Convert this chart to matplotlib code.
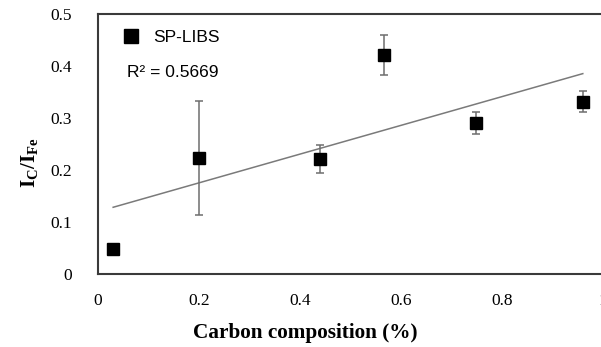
import numpy as np
import matplotlib
matplotlib.use("Agg")
import matplotlib.pyplot as plt
from matplotlib.lines import Line2D

plt.rcParams["mathtext.fontset"] = "custom"
plt.rcParams["mathtext.rm"] = "Liberation Serif"
plt.rcParams["mathtext.bf"] = "Liberation Serif:bold"

# carbon content (%) and I_C/I_Fe ratio with error bars
carbon = [0.03, 0.20, 0.44, 0.566, 0.749, 0.96]
ratio = [0.048, 0.223, 0.221, 0.421, 0.290, 0.331]
ratio_err = [0.0, 0.11, 0.027, 0.038, 0.021, 0.02]
x_ticks = [0, 0.2, 0.4, 0.6, 0.8, 1]
y_ticks = [0, 0.1, 0.2, 0.3, 0.4, 0.5]
x_tick_labels = ["0", "0.2", "0.4", "0.6", "0.8", "1"]
y_tick_labels = ["0", "0.1", "0.2", "0.3", "0.4", "0.5"]

fig = plt.figure(figsize=(6.01, 3.47), dpi=100)
ax = fig.add_axes([98 / 601, 73 / 347, 505 / 601, 260 / 347])

ax.errorbar(carbon, ratio, yerr=ratio_err, fmt="s", color="black",
            markersize=8.5, ecolor="#6e6e6e", elinewidth=1.1,
            capsize=2.6, capthick=1.1, zorder=3)

# linear trend line through the measurements
k, b = np.polyfit(carbon, ratio, 1)
xs = np.array([min(carbon), max(carbon)])
ax.plot(xs, k * xs + b, color="#7a7a7a", linewidth=1.1, zorder=2)

ax.set_xlim(0, 1)
ax.set_ylim(0, 0.5)
ax.set_xticks(x_ticks)
ax.set_xticklabels(x_tick_labels)
ax.set_yticks(y_ticks)
ax.set_yticklabels(y_tick_labels)
ax.tick_params(length=0, labelsize=12.5, pad=14)
ax.tick_params(axis="y", pad=19)
for lbl in ax.get_xticklabels() + ax.get_yticklabels():
    lbl.set_fontfamily("Liberation Serif")

for side in ["left", "bottom", "top"]:
    ax.spines[side].set_color("#3a3a3a")
    ax.spines[side].set_linewidth(1.5)
ax.spines["right"].set_visible(False)

ax.set_xlabel("Carbon composition (%)", fontfamily="Liberation Serif",
              fontweight="bold", fontsize=15.3, labelpad=10, x=0.41)
ax.set_ylabel(r"$\mathbf{I_{C}/I_{Fe}}$", fontsize=15, labelpad=7, y=0.427)

handle = Line2D([], [], marker="s", color="black", linestyle="none", markersize=9.5)
ax.legend([handle], ["SP-LIBS"], loc="upper left", frameon=False,
          prop={"family": "Liberation Sans", "size": 12.5},
          handletextpad=0.3, bbox_to_anchor=(0.0, 0.998))
ax.text(0.057, 0.775, "R² = 0.5669", transform=ax.transAxes,
        fontfamily="Liberation Sans", fontsize=12.5, va="center", ha="left")

fig.savefig("out.png", dpi=100)
